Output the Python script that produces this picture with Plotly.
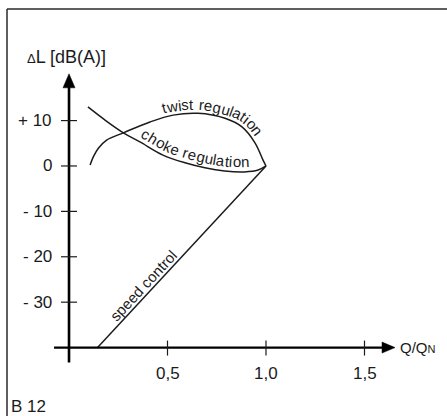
import math
import numpy as np
import plotly.graph_objects as go

# Relative flow Q/QN against change of sound level ΔL in dB(A)
twist_q = [0.107, 0.124, 0.149, 0.191, 0.276, 0.411, 0.528, 0.655, 0.792, 0.878, 0.944, 0.985, 1.0]
twist_dl = [0.2, 2.05, 3.9, 5.7, 7.3, 9.7, 11.2, 11.6, 10.5, 8.6, 5.1, 1.3, 0.0]

choke_q = [0.096, 0.18, 0.276, 0.36, 0.477, 0.589, 0.69, 0.79, 0.89, 0.96, 1.0]
choke_dl = [13.0, 10.2, 7.3, 5.3, 2.4, 0.7, -0.4, -1.1, -1.3, -0.9, 0.0]

speed_q = [0.145, 1.0]
speed_dl = [-40.0, 0.0]

y_ticks = [10, 0, -10, -20, -30]
y_tick_text = ["+ 10", "0", "- 10", "- 20", "- 30"]
x_ticks = [0.5, 1.0, 1.5]
x_tick_text = ["0,5", "1,0", "1,5"]

# Layout geometry
W, H = 447, 416
X_RANGE = [-0.3503, 1.9188]
Y_RANGE = [-55.07, 36.56]
X_AXIS_AT = -40.0
X_AXIS_SPAN = [-0.076, 1.595]
X_ARROW_TIP = 1.655
Y_AXIS_SPAN = [-43.3, 17.6]
Y_ARROW_TIP = 20.3

FONT = "Liberation Sans, Arial, Helvetica, sans-serif"
INK = "#1b1b1b"

PPX = W / (X_RANGE[1] - X_RANGE[0])
PPY = H / (Y_RANGE[1] - Y_RANGE[0])


def to_px(x, y):
    x = np.asarray(x, float)
    y = np.asarray(y, float)
    return (x - X_RANGE[0]) * PPX, H - (y - Y_RANGE[0]) * PPY


def to_data(px, py):
    return px / PPX + X_RANGE[0], (H - py) / PPY + Y_RANGE[0]


def catmull(px, py, n=24):
    pts = np.column_stack([px, py])
    pts = np.vstack([2 * pts[0] - pts[1], pts, 2 * pts[-1] - pts[-2]])
    out = []
    for i in range(1, len(pts) - 2):
        p0, p1, p2, p3 = pts[i - 1], pts[i], pts[i + 1], pts[i + 2]
        for t in np.linspace(0, 1, n, endpoint=False):
            t2, t3 = t * t, t * t * t
            out.append(0.5 * ((2 * p1) + (-p0 + p2) * t
                              + (2 * p0 - 5 * p1 + 4 * p2 - p3) * t2
                              + (-p0 + 3 * p1 - 3 * p2 + p3) * t3))
    out.append(pts[-2])
    out = np.array(out)
    return out[:, 0], out[:, 1]


# Arial advance widths (em)
CW = {"t": .278, "w": .722, "i": .222, "s": .5, " ": .278, "r": .333, "e": .556,
      "g": .556, "u": .556, "l": .222, "a": .556, "o": .556, "n": .556,
      "c": .5, "h": .556, "k": .5}


def curved_label(text, xs, ys, start_x, size, offset, spacing=1.0):
    bx, by = catmull(*to_px(xs, ys))
    tx = np.gradient(bx)
    ty = np.gradient(by)
    norm = np.hypot(tx, ty)
    tx, ty = tx / norm, ty / norm
    ox, oy = bx + offset * ty, by - offset * tx
    s = np.concatenate([[0], np.cumsum(np.hypot(np.diff(ox), np.diff(oy)))])
    sx = to_px(start_x, 0)[0]
    pos = np.interp(sx, ox, s)
    anns = []
    for ch in text:
        w = CW[ch] * size * spacing
        sc = pos + w / 2
        cx = np.interp(sc, s, ox)
        cy = np.interp(sc, s, oy)
        i = int(np.clip(np.searchsorted(s, sc), 1, len(s) - 1))
        ang = math.degrees(math.atan2(oy[i] - oy[i - 1], ox[i] - ox[i - 1]))
        if ch != " ":
            dx, dy = to_data(cx, cy)
            anns.append(dict(x=float(dx), y=float(dy), text=ch, showarrow=False,
                             textangle=ang, xanchor="center", yanchor="middle",
                             font=dict(size=size, family=FONT, color=INK)))
        pos += w
    return anns


fig = go.Figure()
line_style = dict(color=INK, width=1.5)
fig.add_trace(go.Scatter(x=twist_q, y=twist_dl, mode="lines",
                         line=dict(shape="spline", smoothing=1.0, **line_style),
                         hoverinfo="skip"))
fig.add_trace(go.Scatter(x=choke_q, y=choke_dl, mode="lines",
                         line=dict(shape="spline", smoothing=1.0, **line_style),
                         hoverinfo="skip"))
fig.add_trace(go.Scatter(x=speed_q, y=speed_dl, mode="lines", line=line_style,
                         hoverinfo="skip"))

shapes = []
# axes
shapes.append(dict(type="line", xref="x", yref="y", x0=0, x1=0,
                   y0=Y_AXIS_SPAN[0], y1=Y_AXIS_SPAN[1],
                   line=dict(color="black", width=2.6)))
shapes.append(dict(type="line", xref="x", yref="y", x0=X_AXIS_SPAN[0], x1=X_AXIS_SPAN[1],
                   y0=X_AXIS_AT, y1=X_AXIS_AT, line=dict(color="black", width=2.4)))
# arrow heads
hw = 6.0 / PPX
ah = 14.0 / PPY
shapes.append(dict(type="path", xref="x", yref="y",
                   path=f"M {-hw} {Y_ARROW_TIP - ah} L 0 {Y_ARROW_TIP} L {hw} {Y_ARROW_TIP - ah} Z",
                   fillcolor="black", line=dict(color="black", width=0.5)))
hh = 5.5 / PPY
al = 13.0 / PPX
shapes.append(dict(type="path", xref="x", yref="y",
                   path=f"M {X_ARROW_TIP - al} {X_AXIS_AT - hh} L {X_ARROW_TIP} {X_AXIS_AT} L {X_ARROW_TIP - al} {X_AXIS_AT + hh} Z",
                   fillcolor="black", line=dict(color="black", width=0.5)))
# tick marks
for v in y_ticks:
    shapes.append(dict(type="line", xref="x", yref="y", x0=-8 / PPX, x1=8 / PPX, y0=v, y1=v,
                       line=dict(color=INK, width=1.2)))
for v in x_ticks:
    shapes.append(dict(type="line", xref="x", yref="y", x0=v, x1=v,
                       y0=X_AXIS_AT - 8 / PPY, y1=X_AXIS_AT + 7 / PPY,
                       line=dict(color=INK, width=1.2)))
# frame (left and top edges)
fx = 7 / W
fy = 1 - 9 / H
shapes.append(dict(type="line", xref="paper", yref="paper", x0=fx, x1=fx, y0=-0.01, y1=fy,
                   line=dict(color="#2a2a2a", width=1.5)))
shapes.append(dict(type="line", xref="paper", yref="paper", x0=fx, x1=1.01, y0=fy, y1=fy,
                   line=dict(color="#2a2a2a", width=1.5)))

anns = []
for v, t in zip(y_ticks, y_tick_text):
    anns.append(dict(x=0, y=v, text=t, showarrow=False, xanchor="right", yanchor="middle",
                     xshift=-15, font=dict(size=17, family=FONT, color=INK)))
for v, t in zip(x_ticks, x_tick_text):
    anns.append(dict(x=v, y=X_AXIS_AT, text=t, showarrow=False, xanchor="center",
                     yanchor="middle", yshift=-26, font=dict(size=17, family=FONT, color=INK)))

anns.append(dict(x=0, y=Y_ARROW_TIP, text="<span style='font-size:13px'>Δ</span>L [dB(A)]",
                 showarrow=False, xanchor="center", yanchor="middle", xshift=-3, yshift=17,
                 font=dict(size=18, family=FONT, color=INK)))
anns.append(dict(x=X_ARROW_TIP, y=X_AXIS_AT, text="Q/Q<span style='font-size:11px'>N</span>",
                 showarrow=False, xanchor="left", yanchor="middle", xshift=3,
                 font=dict(size=15, family=FONT, color=INK)))
anns.append(dict(x=9 / W, y=(H - 406) / H, xref="paper", yref="paper", text="B 12",
                 showarrow=False, xanchor="left", yanchor="middle",
                 font=dict(size=17, family=FONT, color=INK)))

# curve captions
anns += curved_label("twist regulation", twist_q, twist_dl, 0.472, 15, 9, 1.08)
anns += curved_label("choke regulation", choke_q, choke_dl, 0.376, 15, 10, 1.02)

# caption along the speed-control line
t = 0.31
sx0, sy0 = to_px(speed_q[0], speed_dl[0])
sx1, sy1 = to_px(speed_q[1], speed_dl[1])
ux, uy = sx1 - sx0, sy1 - sy0
ln = math.hypot(ux, uy)
ux, uy = ux / ln, uy / ln
off = 9.0
anns.append(dict(x=speed_q[0] + t * (speed_q[1] - speed_q[0]),
                 y=speed_dl[0] + t * (speed_dl[1] - speed_dl[0]),
                 text="speed control", showarrow=False, xanchor="center", yanchor="middle",
                 textangle=math.degrees(math.atan2(uy, ux)),
                 xshift=off * uy, yshift=off * ux,
                 font=dict(size=15, family=FONT, color=INK)))

fig.update_layout(
    width=W, height=H, margin=dict(l=0, r=0, t=0, b=0),
    paper_bgcolor="white", plot_bgcolor="white", showlegend=False,
    xaxis=dict(range=X_RANGE, visible=False, fixedrange=True),
    yaxis=dict(range=Y_RANGE, visible=False, fixedrange=True),
    shapes=shapes, annotations=anns,
)

fig.write_html("out.html", config={"displayModeBar": False})
